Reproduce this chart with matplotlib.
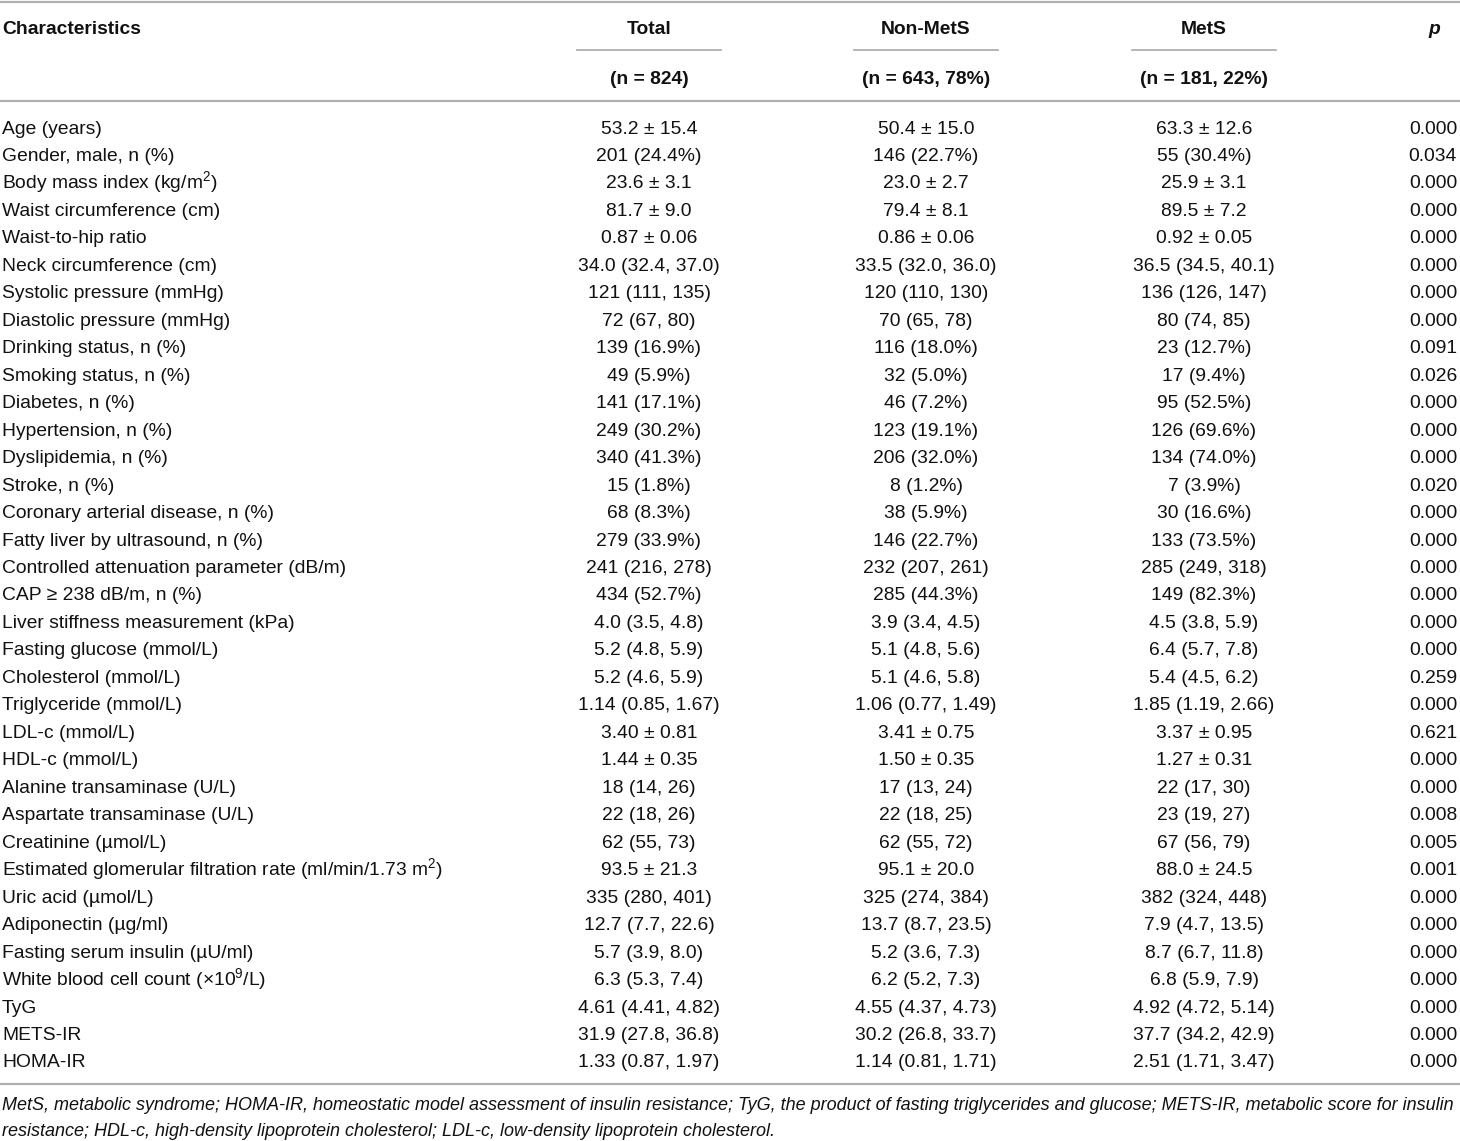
import matplotlib
matplotlib.use("Agg")
import matplotlib.pyplot as plt
from matplotlib.lines import Line2D
from matplotlib import font_manager

names = {f.name for f in font_manager.fontManager.ttflist}
FAM = "Liberation Sans Narrow" if "Liberation Sans Narrow" in names else "Liberation Sans"
plt.rcParams['font.family'] = [FAM, 'DejaVu Sans']
plt.rcParams['mathtext.fontset'] = 'custom'
plt.rcParams['mathtext.rm'] = FAM
plt.rcParams['mathtext.it'] = FAM + ':italic'
plt.rcParams['mathtext.bf'] = FAM + ':bold'

headers = ["Characteristics", "Total", "Non-MetS", "MetS", "p"]
subheaders = ["(n = 824)", "(n = 643, 78%)", "(n = 181, 22%)"]

characteristics = [
    "Age (years)", "Gender, male, n (%)", "Body mass index (kg/m$^{2}$)",
    "Waist circumference (cm)", "Waist-to-hip ratio", "Neck circumference (cm)",
    "Systolic pressure (mmHg)", "Diastolic pressure (mmHg)", "Drinking status, n (%)",
    "Smoking status, n (%)", "Diabetes, n (%)", "Hypertension, n (%)",
    "Dyslipidemia, n (%)", "Stroke, n (%)", "Coronary arterial disease, n (%)",
    "Fatty liver by ultrasound, n (%)", "Controlled attenuation parameter (dB/m)",
    "CAP \u2265 238 dB/m, n (%)", "Liver stiffness measurement (kPa)",
    "Fasting glucose (mmol/L)", "Cholesterol (mmol/L)", "Triglyceride (mmol/L)",
    "LDL-c (mmol/L)", "HDL-c (mmol/L)", "Alanine transaminase (U/L)",
    "Aspartate transaminase (U/L)", "Creatinine (\u00b5mol/L)",
    "Estimated glomerular filtration rate (ml/min/1.73 m$^{2}$)",
    "Uric acid (\u00b5mol/L)", "Adiponectin (\u00b5g/ml)", "Fasting serum insulin (\u00b5U/ml)",
    "White blood cell count (\u00d710$^{9}$/L)", "TyG", "METS-IR", "HOMA-IR",
]

total = [
    "53.2 \u00b1 15.4", "201 (24.4%)", "23.6 \u00b1 3.1", "81.7 \u00b1 9.0", "0.87 \u00b1 0.06",
    "34.0 (32.4, 37.0)", "121 (111, 135)", "72 (67, 80)", "139 (16.9%)", "49 (5.9%)",
    "141 (17.1%)", "249 (30.2%)", "340 (41.3%)", "15 (1.8%)", "68 (8.3%)",
    "279 (33.9%)", "241 (216, 278)", "434 (52.7%)", "4.0 (3.5, 4.8)", "5.2 (4.8, 5.9)",
    "5.2 (4.6, 5.9)", "1.14 (0.85, 1.67)", "3.40 \u00b1 0.81", "1.44 \u00b1 0.35", "18 (14, 26)",
    "22 (18, 26)", "62 (55, 73)", "93.5 \u00b1 21.3", "335 (280, 401)", "12.7 (7.7, 22.6)",
    "5.7 (3.9, 8.0)", "6.3 (5.3, 7.4)", "4.61 (4.41, 4.82)", "31.9 (27.8, 36.8)",
    "1.33 (0.87, 1.97)",
]
non_mets = [
    "50.4 \u00b1 15.0", "146 (22.7%)", "23.0 \u00b1 2.7", "79.4 \u00b1 8.1", "0.86 \u00b1 0.06",
    "33.5 (32.0, 36.0)", "120 (110, 130)", "70 (65, 78)", "116 (18.0%)", "32 (5.0%)",
    "46 (7.2%)", "123 (19.1%)", "206 (32.0%)", "8 (1.2%)", "38 (5.9%)",
    "146 (22.7%)", "232 (207, 261)", "285 (44.3%)", "3.9 (3.4, 4.5)", "5.1 (4.8, 5.6)",
    "5.1 (4.6, 5.8)", "1.06 (0.77, 1.49)", "3.41 \u00b1 0.75", "1.50 \u00b1 0.35", "17 (13, 24)",
    "22 (18, 25)", "62 (55, 72)", "95.1 \u00b1 20.0", "325 (274, 384)", "13.7 (8.7, 23.5)",
    "5.2 (3.6, 7.3)", "6.2 (5.2, 7.3)", "4.55 (4.37, 4.73)", "30.2 (26.8, 33.7)",
    "1.14 (0.81, 1.71)",
]
mets = [
    "63.3 \u00b1 12.6", "55 (30.4%)", "25.9 \u00b1 3.1", "89.5 \u00b1 7.2", "0.92 \u00b1 0.05",
    "36.5 (34.5, 40.1)", "136 (126, 147)", "80 (74, 85)", "23 (12.7%)", "17 (9.4%)",
    "95 (52.5%)", "126 (69.6%)", "134 (74.0%)", "7 (3.9%)", "30 (16.6%)",
    "133 (73.5%)", "285 (249, 318)", "149 (82.3%)", "4.5 (3.8, 5.9)", "6.4 (5.7, 7.8)",
    "5.4 (4.5, 6.2)", "1.85 (1.19, 2.66)", "3.37 \u00b1 0.95", "1.27 \u00b1 0.31", "22 (17, 30)",
    "23 (19, 27)", "67 (56, 79)", "88.0 \u00b1 24.5", "382 (324, 448)", "7.9 (4.7, 13.5)",
    "8.7 (6.7, 11.8)", "6.8 (5.9, 7.9)", "4.92 (4.72, 5.14)", "37.7 (34.2, 42.9)",
    "2.51 (1.71, 3.47)",
]
p_values = [
    "0.000", "0.034", "0.000", "0.000", "0.000", "0.000", "0.000", "0.000", "0.091",
    "0.026", "0.000", "0.000", "0.000", "0.020", "0.000", "0.000", "0.000", "0.000",
    "0.000", "0.000", "0.259", "0.000", "0.621", "0.000", "0.000", "0.008", "0.005",
    "0.001", "0.000", "0.000", "0.000", "0.000", "0.000", "0.000", "0.000",
]
footnote = [
    "MetS, metabolic syndrome; HOMA-IR, homeostatic model assessment of insulin resistance; TyG, the product of fasting triglycerides and glucose; METS-IR, metabolic score for insulin",
    "resistance; HDL-c, high-density lipoprotein cholesterol; LDL-c, low-density lipoprotein cholesterol.",
]

W, H = 1460, 1141
fig = plt.figure(figsize=(W / 100, H / 100), dpi=100)
ax = fig.add_axes([0, 0, 1, 1])
ax.set_xlim(0, W)
ax.set_ylim(H, 0)
ax.axis('off')

FS = 13.9
TXT = '#111111'
LINE = '#b0b0b0'
BL = 6.5  # baseline offset below the row centre, in pixels

def hline(x0, x1, y, lw=1.6):
    ax.add_line(Line2D([x0, x1], [y, y], color=LINE, lw=lw))

col_x = [2, 649, 926, 1204, 1457]

# rules
hline(0, W, 2)
hline(0, W, 101)
hline(0, W, 1084)
for cx in col_x[1:4]:
    hline(cx - 72, cx + 72, 50, lw=1.3)

# headers
ax.text(col_x[0], 27 + BL, headers[0], fontsize=FS, fontweight='bold', color=TXT, va='baseline', ha='left')
for i in range(1, 4):
    ax.text(col_x[i], 27 + BL, headers[i], fontsize=FS, fontweight='bold', color=TXT, va='baseline', ha='center')
    ax.text(col_x[i], 77 + BL, subheaders[i - 1], fontsize=FS, fontweight='bold', color=TXT, va='baseline', ha='center')
ax.text(1434, 27 + BL, headers[4], fontsize=FS, fontweight='bold', style='italic', color=TXT, va='baseline', ha='center')

# body
y0, dy = 127, 27.47
for r in range(len(characteristics)):
    y = y0 + r * dy + BL
    ax.text(col_x[0], y, characteristics[r], fontsize=FS, color=TXT, va='baseline', ha='left')
    ax.text(col_x[1], y, total[r], fontsize=FS, color=TXT, va='baseline', ha='center')
    ax.text(col_x[2], y, non_mets[r], fontsize=FS, color=TXT, va='baseline', ha='center')
    ax.text(col_x[3], y, mets[r], fontsize=FS, color=TXT, va='baseline', ha='center')
    ax.text(col_x[4], y, p_values[r], fontsize=FS, color=TXT, va='baseline', ha='right')

for k, line in enumerate(footnote):
    ax.text(2, 1105 + k * 26 + 5.5, line, fontsize=13.0, style='italic', color=TXT, va='baseline', ha='left')

fig.savefig("out.png", dpi=100)
